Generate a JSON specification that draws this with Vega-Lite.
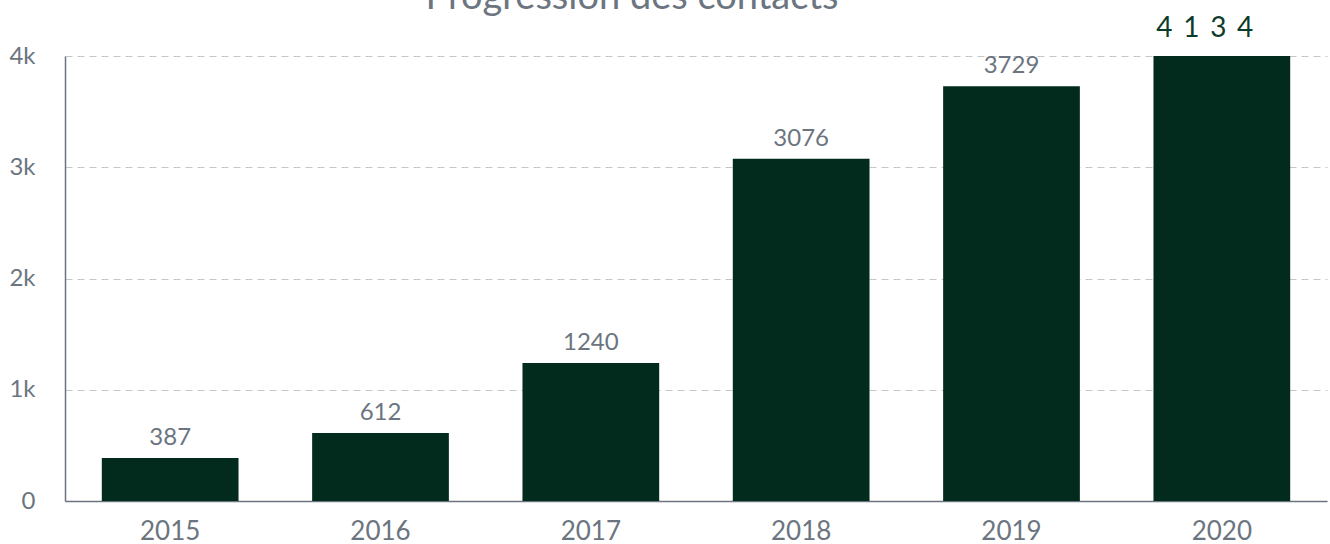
{
  "$schema": "https://vega.github.io/schema/vega-lite/v6.json",
  "autosize": "none",
  "width": 1262,
  "height": 445,
  "padding": {"left": 65, "top": 56, "right": 3, "bottom": 43},
  "background": "white",
  "title": {
    "text": "Progression des contacts",
    "font": "Lato",
    "fontSize": 38,
    "fontWeight": "normal",
    "color": "#6b7580",
    "anchor": "middle",
    "baseline": "alphabetic",
    "offset": -32,
    "dx": -64
  },
  "data": {
    "values": [
      {"year": "2015", "value": 387, "label": "387", "kind": "normal"},
      {"year": "2016", "value": 612, "label": "612", "kind": "normal"},
      {"year": "2017", "value": 1240, "label": "1240", "kind": "normal"},
      {"year": "2018", "value": 3076, "label": "3076", "kind": "normal"},
      {"year": "2019", "value": 3729, "label": "3729", "kind": "normal"},
      {"year": "2020", "value": 4134, "label": "4 \u20091 \u20093 \u20094", "kind": "highlight"}
    ]
  },
  "encoding": {
    "x": {
      "field": "year",
      "type": "nominal",
      "sort": null,
      "scale": {"paddingInner": 0.35, "paddingOuter": 0.175},
      "axis": {
        "title": null,
        "labelAngle": 0,
        "labelFont": "Lato",
        "labelFontSize": 26,
        "labelColor": "#6b7580",
        "labelPadding": 17,
        "ticks": false,
        "domainColor": "#6b7580",
        "domainWidth": 1.5
      }
    },
    "y": {
      "field": "value",
      "type": "quantitative",
      "scale": {"domain": [0, 4000], "clamp": true, "nice": false},
      "axis": {
        "title": null,
        "values": [0, 1000, 2000, 3000, 4000],
        "labelExpr": "datum.value == 0 ? '0' : (datum.value / 1000) + 'k'",
        "labelFont": "Lato",
        "labelFontSize": 24,
        "labelColor": "#6b7580",
        "labelPadding": 30,
        "ticks": false,
        "domainColor": "#6b7580",
        "domainWidth": 1.5,
        "grid": true,
        "gridColor": "#c3c7cb",
        "gridDash": [7, 5],
        "gridWidth": 1.2
      }
    }
  },
  "layer": [
    {
      "mark": {"type": "bar", "color": "#022b1d", "clip": true}
    },
    {
      "transform": [{"filter": "datum.kind == 'normal'"}],
      "mark": {"type": "text", "font": "Lato", "fontSize": 24, "baseline": "alphabetic", "dy": -13, "color": "#6b7580"},
      "encoding": {"text": {"field": "label"}}
    },
    {
      "transform": [{"filter": "datum.kind == 'highlight'"}],
      "mark": {"type": "text", "font": "Lato", "fontSize": 28, "baseline": "alphabetic", "dy": -19, "dx": -17, "color": "#0d3b2a"},
      "encoding": {"text": {"field": "label"}}
    }
  ],
  "config": {"view": {"stroke": null}}
}
